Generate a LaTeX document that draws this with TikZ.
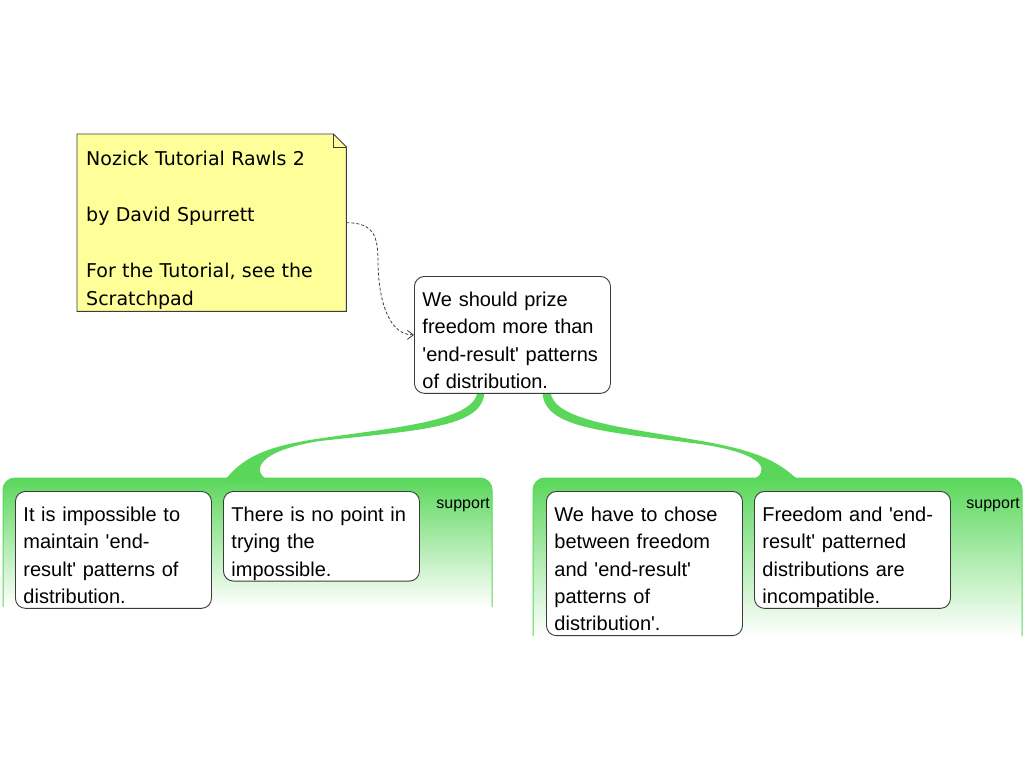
\documentclass[tikz,border=0pt]{standalone}
\usepackage{fontspec}
\setmainfont{Liberation Sans}
\newfontfamily\notefont{DejaVu Sans}
\usetikzlibrary{arrows.meta, calc, backgrounds}
\definecolor{supgreen}{RGB}{90,215,90}
\definecolor{notefill}{RGB}{255,255,153}
\definecolor{boxline}{RGB}{60,60,60}
\newcommand{\apos}{\textquotesingle}

\begin{document}
\begin{tikzpicture}[x=1pt, y=-1pt,
  claim/.style={draw=boxline, line width=0.9pt, fill=white, rounded corners=10pt,
    anchor=north west, inner xsep=8pt, inner ysep=0pt, text width=180pt, align=left,
    font=\fontsize{20pt}{27.3pt}\selectfont,
    execute at begin node={\rule{0pt}{30pt}},
    execute at end node={\rule[-5pt]{0pt}{5pt}}},
  notebox/.style={fill=notefill, anchor=north west, inner xsep=9pt, inner ysep=0pt,
    text width=251pt, align=left, font=\notefont\fontsize{19pt}{28pt}\selectfont,
    execute at begin node={\rule{0pt}{31pt}},
    execute at end node={\rule[-6pt]{0pt}{6pt}}},
  suplabel/.style={anchor=base east, inner sep=0pt, font=\fontsize{16pt}{19pt}\selectfont},
  suparea/.style={top color=supgreen, bottom color=white, draw=supgreen,
    line width=1pt, rounded corners=12pt}]
\useasboundingbox (0,0) rectangle (1024,768);

% note
\node[notebox] (note) at (77,134) {Nozick Tutorial Rawls 2\\[28pt]by David Spurrett\\[28pt]For the Tutorial, see the\\Scratchpad};
\fill[white] ($(note.north east)+(-13,0)$) -- (note.north east) -- ($(note.north east)+(0,13)$) -- cycle;
\draw[boxline, line width=0.9pt] (note.north west) -- ($(note.north east)+(-13,0)$) -- ($(note.north east)+(0,13)$) -- (note.south east) -- (note.south west) -- cycle;
\draw[boxline, line width=0.9pt] ($(note.north east)+(-13,0)$) -- ($(note.north east)+(-13,13)$) -- ($(note.north east)+(0,13)$);

% claims
\node[claim] (prize) at (414,276) {We should prize\\freedom more than\\\apos{}end-result\apos{} patterns\\of distribution.};
\node[claim] (impossible) at (15,491) {It is impossible to\\maintain \apos{}end-\\result\apos{} patterns of\\distribution.};
\node[claim] (nopoint) at (223,491) {There is no point in\\trying the\\impossible.};
\node[claim] (chose) at (546,491) {We have to chose\\between freedom\\and \apos{}end-result\apos{}\\patterns of\\distribution\apos{}.};
\node[claim] (incompat) at (754,491) {Freedom and \apos{}end-\\result\apos{} patterned\\distributions are\\incompatible.};

\node[suplabel] (supL) at (490,508) {support};
\node[suplabel] (supR) at (1020,508) {support};

\draw[boxline, line width=0.8pt, dash pattern=on 3pt off 2pt, -{Straight Barb[length=6pt,width=9pt]}]
  (note.east) .. controls +(28,0) and +(0,-25) .. (378,262) .. controls +(0,25) and +(-30,0) .. (prize.west);

\begin{scope}[on background layer]
\path[suparea] (3,607) -- (3,478) -- (492,478) -- (492,607);
\path[suparea] (533,636) -- (533,478) -- (1022,478) -- (1022,636);
% branches
\fill[supgreen] ($(prize.south)+(-35,-3)$) .. controls +(-1,29) and (400,427) .. (330,437)
  .. controls (270,445) and (245,455) .. (225,480) -- (268,480)
  .. controls (252,472) and (255,451) .. (320,441)
  .. controls (420,430) and ($(prize.south)+(-28,34)$) .. ($(prize.south)+(-28,-3)$) -- cycle;
\fill[supgreen] ($(prize.south)+(38,-3)$) .. controls +(1,29) and (620,427) .. (690,439)
  .. controls (750,449) and (775,458) .. (798,480) -- (752,480)
  .. controls (770,472) and (768,454) .. (700,444)
  .. controls (600,431) and ($(prize.south)+(30,34)$) .. ($(prize.south)+(30,-3)$) -- cycle;
\end{scope}
\end{tikzpicture}
\end{document}
